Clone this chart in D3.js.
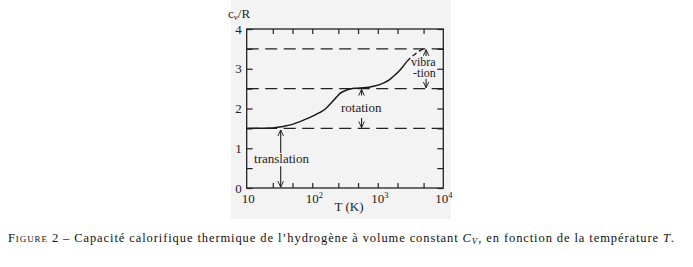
<!DOCTYPE html>
<html>
<head>
<meta charset="utf-8">
<script src="https://cdn.jsdelivr.net/npm/d3@7"></script>
<style>
  body{ margin:0; background:#fff; }
  svg{ display:block; }
  svg text{ font-family:"Liberation Serif","Times New Roman",Times,serif; }
</style>
</head>
<body>
<svg id="chart" width="693" height="267"></svg>
<script>
// Values: T in kelvin, c_v/R dimensionless.
const tempSolid = [10, 25, 36, 50, 65, 85, 117, 140, 166, 190, 210, 240, 265, 310, 380, 480, 605, 860, 1215, 1500, 1740, 2190, 2770];
const cvSolid   = [1.5, 1.51, 1.55, 1.6, 1.67, 1.75, 1.86, 1.93, 2.02, 2.12, 2.2, 2.3, 2.38, 2.44, 2.49, 2.51, 2.52, 2.56, 2.64, 2.72, 2.81, 2.97, 3.18];
const tempDashed = [2770, 3300, 4000, 4980];
const cvDashed   = [3.18, 3.3, 3.41, 3.5];
const plateaus = [1.5, 2.5, 3.5];
const xMajor = [10, 100, 1000, 10000];
const xMinor = [25, 50, 250, 500, 2000, 5000];
const yTicks = [0, 0.5, 1, 1.5, 2, 2.5, 3, 3.5, 4];
const yLabels = [0, 1, 2, 3, 4];

// Annotations, anchored in data units (T, c_v/R).
const notes = [
	{text:"translation", T:34, cv:0.63},
	{text:"rotation", T:560, cv:1.91},
	{text:"vibra", T:4950, cv:3.07},
	{text:"-tion", T:5150, cv:2.79}
];
const arrows = [
	{T:33, from:0.88, to:1.46},
	{T:33, from:0.55, to:0.02},
	{T:566, from:2.33, to:2.48},
	{T:566, from:1.76, to:1.52},
	{T:5460, from:3.32, to:3.48},
	{T:5460, from:2.74, to:2.52}
];

const W = 693, H = 267;
const margin = {top:29, right:249.7, bottom:79, left:246.7};
const w = W - margin.left - margin.right;
const h = H - margin.top - margin.bottom;

const svg = d3.select("#chart");

// Light grey of the scanned page.
svg.append("rect")
	.attr("x", 231).attr("y", 0)
	.attr("width", 220).attr("height", 219)
	.attr("fill", "#f3f3f3");

const g = svg.append("g").attr("transform", `translate(${margin.left},${margin.top})`);

const x = d3.scaleLog().domain([10, 10000]).range([0, w]);
const y = d3.scaleLinear().domain([0, 4]).range([h, 0]);

// arrow head
svg.append("defs").append("marker")
	.attr("id", "head")
	.attr("viewBox", "0 -4 8 8")
	.attr("refX", 7).attr("refY", 0)
	.attr("markerUnits", "userSpaceOnUse")
	.attr("markerWidth", 7).attr("markerHeight", 7)
	.attr("orient", "auto")
  .append("path")
	.attr("d", "M0,-3.2L7,0L0,3.2")
	.attr("fill", "none")
	.attr("stroke", "#222")
	.attr("stroke-width", 1.1);

// Inward ticks on all four sides.
function styleAxis(sel){
	sel.select(".domain").remove();
	sel.selectAll(".tick line").attr("stroke", "#222").attr("stroke-width", 1.2);
	sel.selectAll("text").attr("font-size", 13).attr("fill", "#222").attr("font-family", null);
} // styleAxis

g.append("g")
	.attr("transform", `translate(0,${h})`)
	.call(d3.axisBottom(x).tickValues(xMinor.concat([100, 1000])).tickSize(-5).tickFormat(""))
	.call(styleAxis);
g.append("g")
	.call(d3.axisTop(x).tickValues(xMinor.concat([100, 1000])).tickSize(-5).tickFormat(""))
	.call(styleAxis);
g.append("g")
	.call(d3.axisLeft(y).tickValues(yTicks).tickSize(-6)
		.tickFormat(d => yLabels.includes(d) ? d : "").tickPadding(5))
	.call(styleAxis);
g.append("g")
	.attr("transform", `translate(${w},0)`)
	.call(d3.axisRight(y).tickValues(yTicks).tickSize(-6).tickFormat(""))
	.call(styleAxis);

// x labels: 10, 10^2, 10^3, 10^4 -- the "10" part sits centred on the tick
const xl = g.append("g").selectAll("text")
	.data(xMajor)
	.join("text")
	.attr("x", d => x(d) - 6.5 + (d == 10 ? 1.5 : 0) - (d == 10000 ? 1.5 : 0))
	.attr("y", h + 15)
	.attr("text-anchor", "start")
	.attr("font-size", 13)
	.attr("fill", "#222");
xl.append("tspan").text("10");
xl.filter(d => d > 10).append("tspan")
	.attr("dy", -5)
	.attr("font-size", 8.5)
	.text(d => Math.round(Math.log10(d)));

// frame
g.append("rect")
	.attr("width", w).attr("height", h)
	.attr("fill", "none")
	.attr("stroke", "#222")
	.attr("stroke-width", 1.3);

// plateau lines
g.selectAll(".plateau")
	.data(plateaus)
	.join("line")
	.attr("class", "plateau")
	.attr("x1", 0).attr("x2", w)
	.attr("y1", d => y(d)).attr("y2", d => y(d))
	.attr("stroke", "#222")
	.attr("stroke-width", 1.3)
	.attr("stroke-dasharray", "12,6.5");

const line = d3.line()
	.x(d => x(d[0]))
	.y(d => y(d[1]))
	.curve(d3.curveMonotoneX);

g.append("path")
	.datum(d3.zip(tempSolid, cvSolid))
	.attr("d", line)
	.attr("fill", "none")
	.attr("stroke", "#1a1a1a")
	.attr("stroke-width", 1.5);
g.append("path")
	.datum(d3.zip(tempDashed, cvDashed))
	.attr("d", line)
	.attr("fill", "none")
	.attr("stroke", "#1a1a1a")
	.attr("stroke-width", 1.4)
	.attr("stroke-dasharray", "5,3");

// annotation arrows
g.selectAll(".arrow")
	.data(arrows)
	.join("line")
	.attr("class", "arrow")
	.attr("x1", d => x(d.T)).attr("x2", d => x(d.T))
	.attr("y1", d => y(d.from)).attr("y2", d => y(d.to))
	.attr("stroke", "#222")
	.attr("stroke-width", 1.1)
	.attr("marker-end", "url(#head)");

g.selectAll(".note")
	.data(notes)
	.join("text")
	.attr("class", "note")
	.attr("x", d => x(d.T))
	.attr("y", d => y(d.cv))
	.attr("text-anchor", "middle")
	.attr("font-size", d => d.text.length <= 5 ? 12 : 13)
	.attr("fill", "#222")
	.text(d => d.text);

// axis titles
const yt = svg.append("text")
	.attr("x", 228).attr("y", 18)
	.attr("font-size", 13)
	.attr("fill", "#222");
yt.append("tspan").text("c");
yt.append("tspan").attr("font-size", 8).attr("dy", 2).text("v");
yt.append("tspan").attr("dy", -2).text("/R");

svg.append("text")
	.attr("x", margin.left + x(365)).attr("y", 211)
	.attr("text-anchor", "middle")
	.attr("font-size", 13)
	.attr("fill", "#222")
	.text("T (K)");

// caption
const cap = svg.append("text")
	.attr("x", 8).attr("y", 241.5)
	.attr("font-size", 12.5)
	.attr("fill", "#111")
	.attr("textLength", 666)
	.attr("lengthAdjust", "spacing");
cap.append("tspan").attr("font-variant", "small-caps").text("Figure 2");
cap.append("tspan").text(" – Capacité calorifique thermique de l’hydrogène à volume constant ");
cap.append("tspan").attr("font-style", "italic").text("C");
cap.append("tspan").attr("font-style", "italic").attr("font-size", 9).attr("dy", 2).text("V");
cap.append("tspan").attr("dy", -2).text(", en fonction de la température ");
cap.append("tspan").attr("font-style", "italic").text("T");
cap.append("tspan").text(".");
</script>
</body>
</html>
